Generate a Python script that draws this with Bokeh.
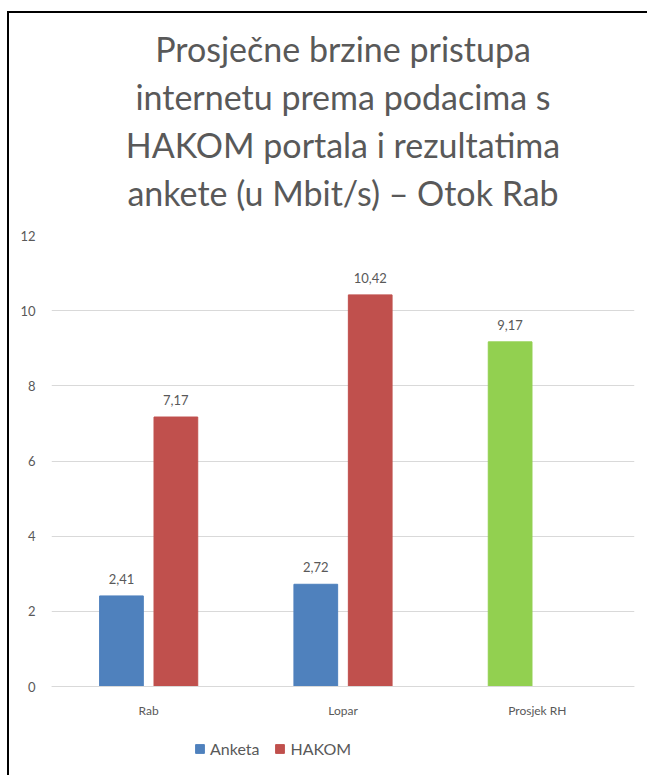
from bokeh.plotting import figure
from bokeh.models import (ColumnDataSource, FactorRange, Range1d, LabelSet, Legend, LegendItem,
                          Title, FixedTicker)
from bokeh.core.properties import value
from bokeh.transform import dodge
from bokeh.embed import file_html
from bokeh.resources import INLINE

# ---- data ----
categories = ["Rab", "Lopar", "Prosjek RH"]
anketa_cats = ["Rab", "Lopar"]
anketa = [2.41, 2.72]
hakom_cats = ["Rab", "Lopar"]
hakom = [7.17, 10.42]
prosjek_cats = ["Prosjek RH"]
prosjek = [9.17]
y_ticks = [0, 2, 4, 6, 8, 10, 12]
title_lines = ["Prosječne brzine pristupa",
               "internetu prema podacima s",
               "HAKOM portala i rezultatima",
               "ankete (u Mbit/s) – Otok Rab"]

FONT = "Lato"
GRAY = "#595959"

def fmt(vals):
    return [f"{v:.2f}".replace(".", ",") for v in vals]

src_a = ColumnDataSource(dict(x=anketa_cats, y=anketa, lab=fmt(anketa)))
src_h = ColumnDataSource(dict(x=hakom_cats, y=hakom, lab=fmt(hakom)))
src_p = ColumnDataSource(dict(x=prosjek_cats, y=prosjek, lab=fmt(prosjek)))

# frame: 12 -> 236px, 0 -> 687px, frame bottom at 780px (37.58 px per unit)
y_bottom = -(780 - 687) / ((687 - 236) / 12)

p = figure(frame_width=583, frame_height=544,
           x_range=FactorRange(*categories, range_padding=0),
           y_range=Range1d(y_bottom, 12), output_backend="svg", toolbar_location=None,
           min_border_left=42, min_border_right=13, min_border_top=222, min_border_bottom=0)
p.styles = {"border-left": "2px solid black", "border-top": "2px solid black",
            "box-sizing": "content-box", "margin-left": "7px", "margin-top": "11px"}

# spacer between the title block and the plot area
p.add_layout(Title(text=" ", text_font=FONT, text_font_size="10px", standoff=6), "above")
for line in reversed(title_lines):
    t = Title(text=line, align="center", text_font=FONT, text_font_size="34px",
              text_font_style="normal", text_color=GRAY, standoff=5)
    p.add_layout(t, "above")

w = 0.225
off = 0.14
r_a = p.vbar(x=dodge("x", -off, range=p.x_range), top="y", width=w, source=src_a,
             fill_color="#4F81BD", line_color="#4F81BD")
r_h = p.vbar(x=dodge("x", off, range=p.x_range), top="y", width=w, source=src_h,
             fill_color="#C0504D", line_color="#C0504D")
r_p = p.vbar(x=dodge("x", -off, range=p.x_range), top="y", width=w, source=src_p,
             fill_color="#92D050", line_color="#92D050")

for src in (src_a, src_h, src_p):
    d = -off if src is not src_h else off
    ls = LabelSet(x=dodge("x", d, range=p.x_range), y="y", text="lab", source=src,
                  text_align="center", text_baseline="bottom", y_offset=12,
                  text_font=value(FONT), text_font_size=value("13px"), text_color=GRAY)
    p.add_layout(ls)

p.yaxis.ticker = FixedTicker(ticks=y_ticks)
p.yaxis.axis_line_color = None
p.yaxis.major_tick_line_color = None
p.yaxis.minor_tick_line_color = None
p.yaxis.major_label_text_font = FONT
p.yaxis.major_label_text_font_size = "13px"
p.yaxis.major_label_text_color = GRAY
p.yaxis.major_label_standoff = 10

p.xaxis.fixed_location = 0
p.xaxis.axis_line_color = "#D9D9D9"
p.xaxis.major_tick_line_color = None
p.xaxis.minor_tick_line_color = None
p.xaxis.major_label_text_font = FONT
p.xaxis.major_label_text_font_size = "12px"
p.xaxis.major_label_text_color = GRAY
p.xaxis.major_label_standoff = 10

p.xgrid.grid_line_color = None
p.ygrid.grid_line_color = "#D9D9D9"
p.outline_line_color = None

legend = Legend(items=[LegendItem(label="Anketa", renderers=[r_a]),
                       LegendItem(label="HAKOM", renderers=[r_h])],
                orientation="horizontal", location=(143, 21),
                label_text_font=FONT, label_text_font_size="16px", label_text_color=GRAY,
                glyph_width=11, glyph_height=11, spacing=15, label_standoff=5,
                border_line_color=None, background_fill_alpha=0, margin=0, padding=4)
p.add_layout(legend)

open("out.html", "w").write(file_html(p, INLINE))
